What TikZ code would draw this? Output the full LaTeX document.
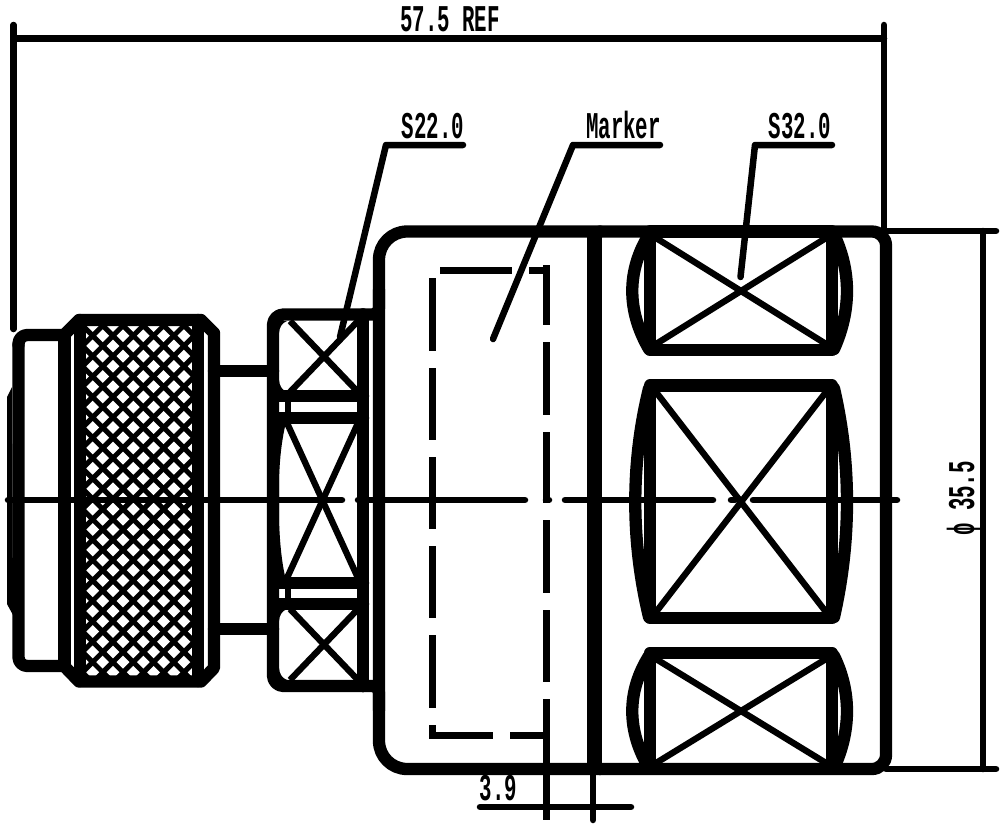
\documentclass[tikz,border=0pt]{standalone}
\usepackage{fontspec}
\newfontfamily\dimfont{Liberation Mono}
\usetikzlibrary{positioning,calc}

\begin{document}
\begin{tikzpicture}[x=0.02cm, y=-0.02cm,
    outline/.style={line width=7pt, line cap=round, line join=round},
    divider/.style={line width=8.5pt},
    dimline/.style={line width=3.7pt, line cap=round, line join=round},
    crossline/.style={line width=3.6pt},
    dashpart/.style={line width=3.7pt},
    dimtext/.style={font=\dimfont\bfseries\fontsize{21.5}{24}\selectfont, inner sep=0pt, anchor=base, xscale=0.55, transform shape}]
\useasboundingbox (0,0) rectangle (1003,828);

% 前端外壳
\fill (12,387) -- (7,397) -- (7,604) -- (13,615) -- cycle;
\draw[outline, rounded corners=5pt] (18.5,345) -- (18.5,335) -- (64.5,335);
\draw[outline, rounded corners=5pt] (18.5,345) -- (18.5,666) -- (64.5,666);
\draw[outline] (64.5,335) -- (64.5,666);

% 滚花螺母
\fill (80,320) rectangle (198,681);
\begin{scope}
    \clip (86,326) rectangle (192,675);
    \foreach \r in {-1,...,17}
        \foreach \c in {0,...,6} {
            \fill[white] ({82.4+20.3*\c-6.4},{335.7+20.4*\r}) -- ++(6.4,-6.4) -- ++(6.4,6.4) -- ++(-6.4,6.4) -- cycle;
            \fill[white] ({92.7+20.3*\c-6.4},{325.5+20.4*\r}) -- ++(6.4,-6.4) -- ++(6.4,6.4) -- ++(-6.4,6.4) -- cycle;
        }
\end{scope}
\draw[outline] (66,333) -- (79,320) -- (201,320) -- (214,333) -- (214,668) -- (201,681.5) -- (79,681.5) -- (66,668);
\draw[outline] (80,320) -- (80,681);
\draw[outline] (198,320) -- (198,681);

% 连接杆
\draw[outline] (214,371) -- (273,371);
\draw[outline] (214,629) -- (273,629);

% 六角部分
\draw[outline, rounded corners=6pt] (363,314.5) -- (273,314.5) -- (273,686) -- (363,686);
\draw[outline] (363,314.5) -- (363,686);
\draw[outline] (279,396) -- (363,396);
\draw[outline] (279,418) -- (363,418);
\draw[outline] (279,583) -- (363,583);
\draw[outline] (279,604) -- (363,604);
\draw[crossline] (288,397) -- (288,417);
\draw[crossline] (288,584) -- (288,603);
\foreach \a/\b in {321/392,609/680} {
    \fill (279,\a) -- (287,\a) .. controls (282,{\a+2}) and (279.5,{\a+6}) .. (279,{\a+12}) -- cycle;
    \fill (279,\b) -- (287,\b) .. controls (282,{\b-2}) and (279.5,{\b-6}) .. (279,{\b-12}) -- cycle;
    \draw[crossline] (290,\a) -- (358,\b);
    \draw[crossline] (358,\a) -- (290,\b);
}
\fill (273,417) -- (287,417) .. controls (283,435) and (280,450) .. (279,480) -- (279,520) .. controls (280,550) and (283,570) .. (287,584) -- (273,584) -- cycle;
\draw[crossline] (287,423) -- (358,578);
\draw[crossline] (358,423) -- (287,578);

% 主体
\draw[outline, rounded corners=16pt] (379,500) -- (379,231.5) -- (600,231.5);
\draw[outline, rounded corners=16pt] (379,500) -- (379,769) -- (600,769);
\draw[outline, rounded corners=8pt] (600,231.5) -- (886,231.5) -- (886,769) -- (600,769);
\draw[outline, rounded corners=4pt] (379,290) -- (379,314.5) -- (363,314.5);
\draw[outline, rounded corners=4pt] (379,710) -- (379,686) -- (363,686);
\draw[divider] (594.5,231.5) -- (594.5,769);

% 右侧三个扳手面
\foreach \t/\b/\il/\ib/\cl/\cr in {231.5/350/238/344/626.7/851.3, 385.5/618/392/612/630.7/851.3, 653/769/659/763/626.7/851.3} {
    \draw[outline] (650,\t) -- (832,\t) -- (832,\b) -- (650,\b) -- cycle;
    \draw[outline] (649,{\t+3}) .. controls (\cl,{\t+(\b-\t)/3}) and (\cl,{\b-(\b-\t)/3}) .. (649,{\b-1});
    \draw[outline] (834,{\t+3}) .. controls (\cr,{\t+(\b-\t)/3}) and (\cr,{\b-(\b-\t)/3}) .. (834,{\b-1});
    \draw[crossline] (656,\il) -- (826,\ib);
    \draw[crossline] (826,\il) -- (656,\ib);
}

% 标记虚线框
\foreach \a/\b in {278/351,368/440,457/529,546/618,635/708,725/739}
    \draw[dashpart] (432.5,\a) -- (432.5,\b);
\foreach \a/\b in {265/325,342/415,432/503,520/593,610/682,699/820}
    \draw[dashpart] (546.5,\a) -- (546.5,\b);
\foreach \a/\b in {440/512,529/549}
    \draw[dashpart] (\a,270.5) -- (\b,270.5);
\foreach \a/\b in {430/493,510/546}
    \draw[dashpart] (\a,735.5) -- (\b,735.5);

% 中心线
\foreach \a/\b in {8/342,358/525,546/549,565/713,731/735,753/897}
    \draw[dimline] (\a,500) -- (\b,500);

% 引线
\coordinate (s22tip) at (340,337);
\coordinate (s22knee) at (386,145);
\coordinate (s22end) at (463,145);
\coordinate (marktip) at (493,339);
\coordinate (markknee) at (573,145);
\coordinate (markend) at (660,145);
\coordinate (s32tip) at (740.5,277);
\coordinate (s32knee) at (755,145);
\coordinate (s32end) at (832,145);
\draw[dimline] (s22tip) -- (s22knee) -- (s22end);
\draw[dimline] (marktip) -- (markknee) -- (markend);
\draw[dimline] (s32tip) -- (s32knee) -- (s32end);

% 尺寸线
\coordinate (leftup) at (13.5,25);
\coordinate (leftdown) at (13.5,329);
\coordinate (rightup) at (884,25);
\coordinate (rightdown) at (884,231);
\coordinate (refa) at (13.5,38.5);
\coordinate (refb) at (884,38.5);
\draw[dimline] (leftup) -- (leftdown);
\draw[dimline] (rightup) -- (rightdown);
\draw[dimline] (refa) -- (refb);
\coordinate (diaup) at (983,231);
\coordinate (diadown) at (983,769);
\coordinate (diaupend) at (996,231);
\coordinate (diadownend) at (996,769);
\draw[dimline] (886,231) -- (diaupend);
\draw[dimline] (886,769) -- (diadownend);
\draw[dimline] (diaup) -- (diadown);
\coordinate (gapa) at (593,769);
\coordinate (gapb) at (593,820);
\coordinate (gapl) at (480,807);
\coordinate (gapr) at (631,807);
\draw[dimline] (gapa) -- (gapb);
\draw[dimline] (gapl) -- (gapr);

% 文字
\node[dimtext] (reftext) at (450,32) {57.5 REF};
\node[dimtext] (s22text) at (433,138) {S22.0};
\node[dimtext] (marktext) at (623.5,138) {Marker};
\node[dimtext] (s32text) at (800,138) {S32.0};
\node[dimtext] (gaptext) at (498.5,800) {3.9};
\node[rotate=90, dimtext] (diatext) at (974,498.5) {ϕ 35.5};
\end{tikzpicture}
\end{document}
